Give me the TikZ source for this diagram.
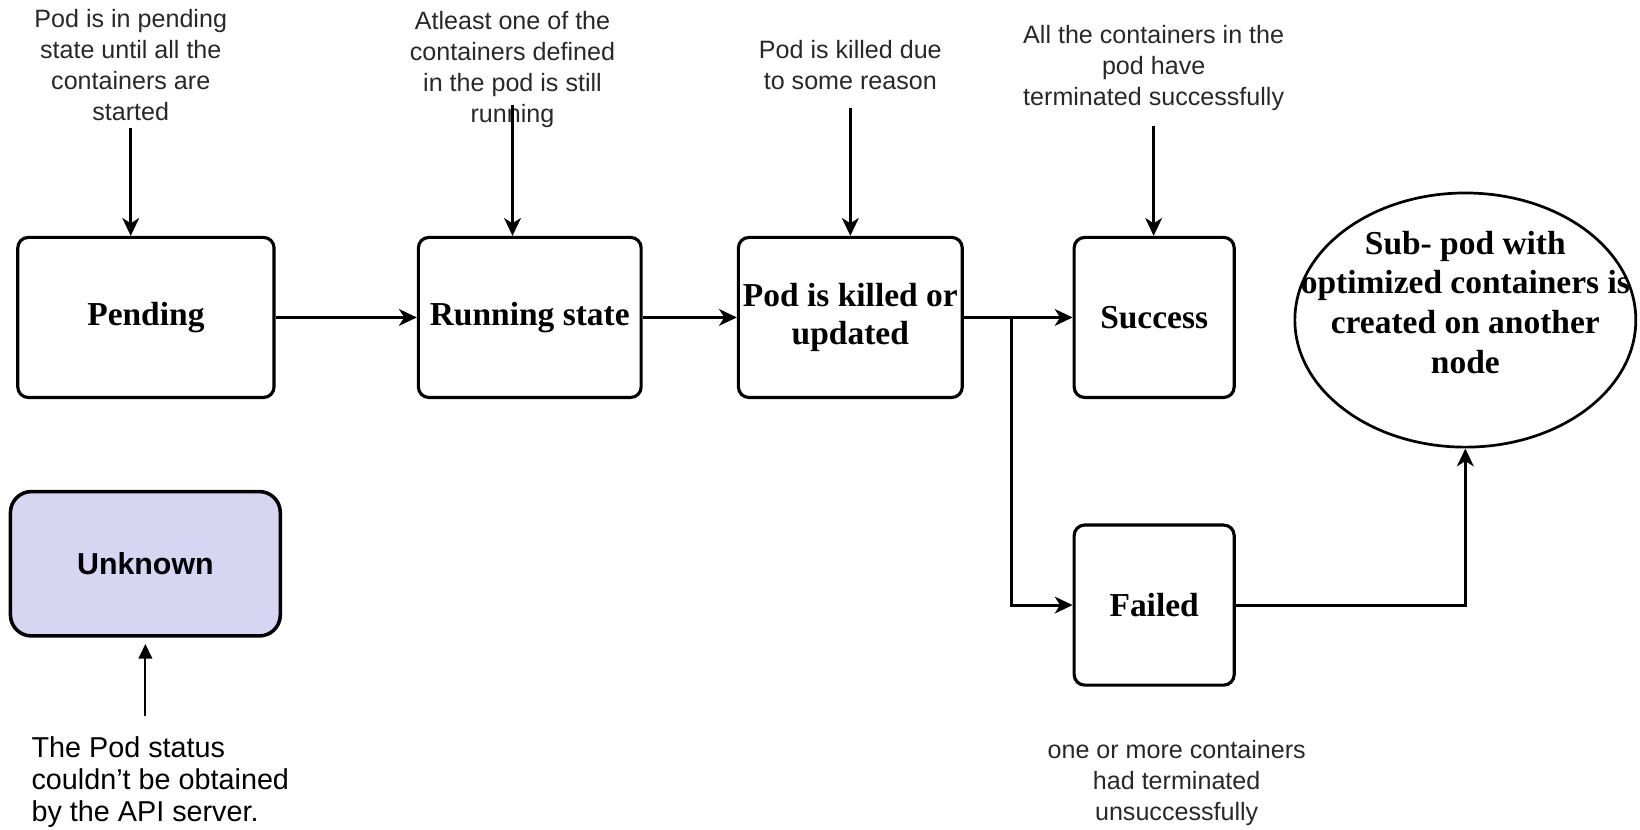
\documentclass[tikz,border=0pt]{standalone}
\usepackage{fontspec}
\setmainfont{Liberation Serif}
\newfontfamily\notefont{Liberation Sans}
\usetikzlibrary{arrows.meta,shapes.geometric,calc}
\definecolor{unkfill}{RGB}{214,214,243}
\definecolor{notegray}{RGB}{40,40,40}
\begin{document}
\begin{tikzpicture}[x=1pt,y=-1pt,
  state/.style={draw, line width=3pt, rounded corners=10pt, align=center, inner sep=0pt,
    font=\bfseries\fontsize{32}{37}\selectfont},
  note/.style={font=\notefont\fontsize{24}{29.5}\selectfont, text=notegray, align=center, inner sep=0pt, anchor=north},
  flow/.style={line width=2.8pt, -{Stealth[length=17pt,width=16pt,inset=5pt]}},
]
\useasboundingbox (0,0) rectangle (1568,793);

% pod phases
\node[state, minimum width=245pt, minimum height=153pt] (pending) at (139.5,303.5) {Pending};
\node[state, minimum width=213pt, minimum height=153pt] (running) at (506.5,303.5) {Running state};
\node[state, minimum width=214pt, minimum height=153pt] (killed) at (813,303.5) {Pod is killed or\\updated};
\node[state, minimum width=153pt, minimum height=153pt] (success) at (1103.5,303.5) {Success};
\node[state, minimum width=153pt, minimum height=153pt] (failed) at (1103.5,578.5) {Failed};
\node[draw, line width=2.6pt, ellipse, minimum width=326pt, minimum height=243pt, inner sep=0pt] (sub) at (1401,306) {};
\node[align=center, inner sep=0pt, font=\bfseries\fontsize{32}{38}\selectfont] (subtext) at (1401,289)
  {Sub- pod with\\optimized containers is\\created on another\\node};
\node[draw, line width=3.4pt, rounded corners=20pt, fill=unkfill, minimum width=258pt, minimum height=138pt,
  font=\notefont\bfseries\fontsize{29}{34}\selectfont] (unknown) at (139,539) {Unknown};

% explanations
\node[note] (npend) at (125,9) {Pod is in pending\\state until all the\\containers are\\started};
\node[note] (nrun) at (490,11) {Atleast one of the\\containers defined\\in the pod is still\\running};
\node[note] (nkill) at (813,38) {Pod is killed due\\to some reason};
\node[note] (nsucc) at (1103,24) {All the containers in the\\pod have\\terminated successfully};
\node[note] (nfail) at (1125,708) {one or more containers\\had terminated\\unsuccessfully};
\node[note, anchor=north west, align=left, text=black, font=\notefont\fontsize{27.5}{30.5}\selectfont] (nunk) at (30,704)
  {The Pod status\\couldn’t be obtained\\by the API server.};

% arrow starts below the explanations
\coordinate (apend) at (125,122);
\coordinate (arun) at (490,100);
\coordinate (akill) at (813,103);
\coordinate (asucc) at (1103,120);
\coordinate (aunk) at (139,685);

\draw[flow] (apend) -- (apend |- pending.north);
\draw[flow] (arun) -- (arun |- running.north);
\draw[flow] (akill) -- (akill |- killed.north);
\draw[flow] (asucc) -- (asucc |- success.north);
\draw[line width=1.8pt, -{Triangle[length=14pt,width=13pt]}, shorten >=6pt] (aunk) -- (unknown.south);

% transitions
\draw[flow] (pending.east) -- (running.west);
\draw[flow] (running.east) -- (killed.west);
\draw[flow] (killed.east) -- (success.west);
\draw[flow] (killed.east) -- ++(46,0) |- (failed.west);
\draw[flow] (failed.east) -| (sub.south);
\end{tikzpicture}
\end{document}
